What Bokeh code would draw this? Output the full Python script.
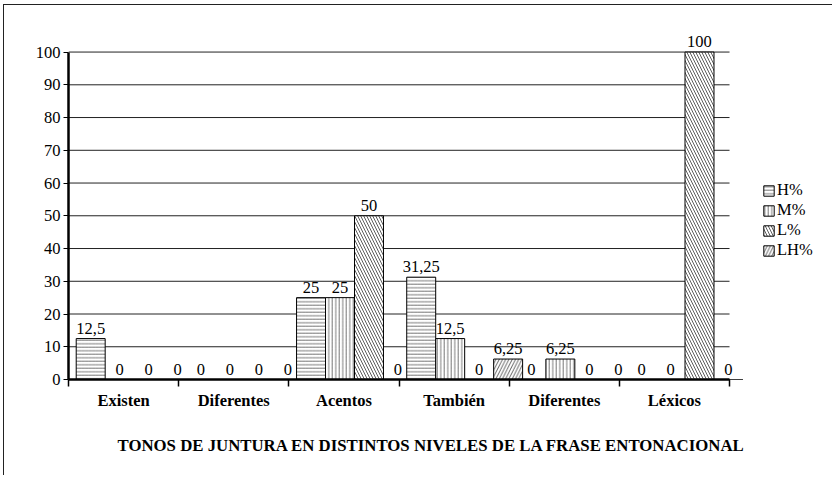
from bokeh.plotting import figure
from bokeh.models import (ColumnDataSource, FixedTicker, LabelSet, Legend,
                          LegendItem, Title, Range1d)
from bokeh.embed import file_html
from bokeh.resources import INLINE

# ---- data ----
categories = ["Existen", "Diferentes", "Acentos", "También", "Diferentes", "Léxicos"]
series = ["H%", "M%", "L%", "LH%"]
h_vals = [12.5, 0, 25, 31.25, 0, 0]
m_vals = [0, 0, 25, 12.5, 6.25, 0]
l_vals = [0, 0, 50, 0, 0, 100]
lh_vals = [0, 0, 0, 6.25, 0, 0]
y_ticks = [0, 10, 20, 30, 40, 50, 60, 70, 80, 90, 100]
title_text = "TONOS DE JUNTURA EN DISTINTOS NIVELES DE LA FRASE ENTONACIONAL"

# ---- style ----
SERIF = "Liberation Serif"
FS = "16.5px"
W, H = 829, 471
BAR_W = 0.263
GROUP_START = 0.07
hatches = [("-", 3.5, "#555"), ("|", 3.5, "#555"), ("\\", 6, "#333"), ("/", 6.5, "#333")]
N = len(categories)
YMAX = max(y_ticks)

p = figure(width=W, height=H, output_backend="svg", toolbar_location=None,
           x_range=Range1d(0, N * 1.1573), y_range=Range1d(0, YMAX * 1.075),
           min_border_left=64, min_border_top=22, min_border_right=0,
           min_border_bottom=90)
p.outline_line_color = None
p.background_fill_color = "white"
p.border_fill_color = "white"
p.styles = {"border-top": "1.5px solid #222", "border-left": "1.5px solid #222",
            "margin-left": "3px", "margin-top": "4px"}

# horizontal grid lines limited to the category span
p.xgrid.visible = False
p.ygrid.visible = False
p.segment(x0=[0] * len(y_ticks), x1=[N] * len(y_ticks), y0=y_ticks, y1=y_ticks,
          line_color="#222", line_width=1)

all_vals = [h_vals, m_vals, l_vals, lh_vals]
lab_x, lab_y, lab_t = [], [], []
renderers = []
for j, (vals, (pat, sc, hc)) in enumerate(zip(all_vals, hatches)):
    xs = [i + GROUP_START + BAR_W * (j + 0.5) for i in range(N)]
    src = ColumnDataSource(dict(x=xs, top=vals))
    r = p.vbar(x="x", top="top", width=BAR_W, source=src,
               fill_color="white", line_color="black", line_width=1,
               hatch_pattern=pat, hatch_scale=sc, hatch_color=hc,
               hatch_weight=0.8)
    renderers.append(r)
    for x, v in zip(xs, vals):
        lab_x.append(x)
        lab_y.append(v)
        lab_t.append(f"{v:g}".replace(".", ","))

labels = LabelSet(x="x", y="y", text="t",
                  source=ColumnDataSource(dict(x=lab_x, y=lab_y, t=lab_t)),
                  text_align="center", text_baseline="alphabetic", y_offset=5,
                  text_font=SERIF, text_font_size=FS, text_color="black")
p.add_layout(labels)

# y axis
p.yaxis.bounds = (0, YMAX)
p.yaxis.ticker = FixedTicker(ticks=y_ticks)
p.yaxis.axis_line_width = 2.5
p.yaxis.axis_line_color = "black"
p.yaxis.major_tick_out = 5
p.yaxis.major_tick_in = 0
p.yaxis.major_tick_line_width = 1.2
p.yaxis.minor_tick_line_color = None
p.yaxis.major_label_text_font = SERIF
p.yaxis.major_label_text_font_size = FS
p.yaxis.major_label_text_color = "black"
p.yaxis.major_label_standoff = 3

# x axis
centers = [i + 0.5 for i in range(N)]
bounds = list(range(N + 1))
p.xaxis.bounds = (0, N)
p.xaxis.ticker = FixedTicker(ticks=centers, minor_ticks=bounds)
p.xaxis.major_label_overrides = {c: name for c, name in zip(centers, categories)}
p.xaxis.axis_line_width = 2.5
p.xaxis.axis_line_color = "black"
p.xaxis.major_tick_line_color = None
p.xaxis.major_tick_out = 0
p.xaxis.major_tick_in = 0
p.xaxis.minor_tick_out = 7
p.xaxis.minor_tick_in = 0
p.xaxis.minor_tick_line_width = 1.5
p.xaxis.minor_tick_line_color = "black"
p.xaxis.major_label_text_font = SERIF
p.xaxis.major_label_text_font_style = "bold"
p.xaxis.major_label_text_font_size = FS
p.xaxis.major_label_text_color = "black"
p.xaxis.major_label_standoff = 4

# legend (inside the widened frame, right of the categories)
legend = Legend(items=[LegendItem(label=s, renderers=[r]) for s, r in zip(series, renderers)],
                location=(694, 119), orientation="vertical")
legend.margin = 0
legend.padding = 0
legend.spacing = 0
legend.glyph_width = 13
legend.glyph_height = 13
legend.label_height = 17
legend.label_standoff = 2
legend.label_text_font = SERIF
legend.label_text_font_size = FS
legend.label_text_color = "black"
legend.border_line_color = None
legend.background_fill_alpha = 0
p.add_layout(legend)

# title below
t = Title(text=title_text, align="left", offset=49, text_font=SERIF,
          text_font_style="bold", text_font_size="16.8px", text_color="black",
          standoff=43)
p.add_layout(t, "below")

open("out.html", "w").write(file_html(p, INLINE))
